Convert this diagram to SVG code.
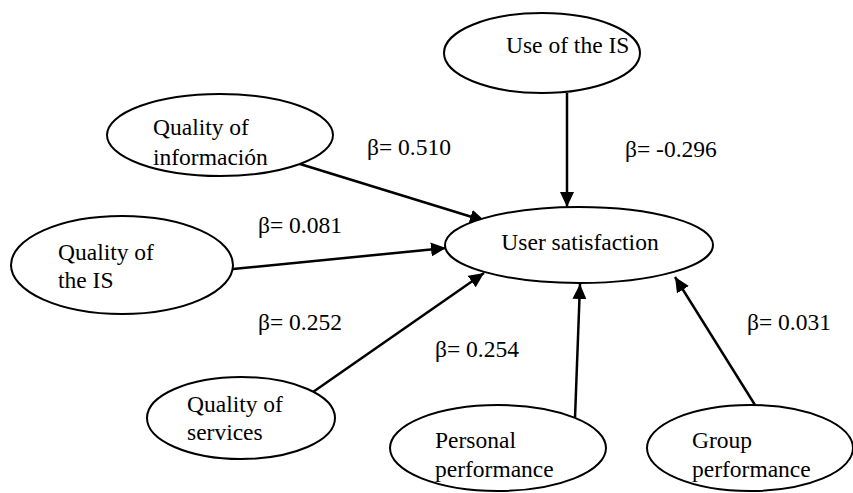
<svg xmlns="http://www.w3.org/2000/svg" width="853" height="493" viewBox="0 0 853 493">
<style>
.n{fill:#fff;stroke:#000;stroke-width:2}
text{font-family:"Liberation Serif","Times New Roman",serif;font-size:23.5px;fill:#000}
.e{stroke:#000;stroke-width:2.5;fill:none}
</style>
<defs>
<marker id="ah" markerUnits="userSpaceOnUse" markerWidth="16" markerHeight="14" refX="15" refY="7" orient="auto">
<path d="M0,0 L15,7 L0,14 Z" fill="#000"/>
</marker>
</defs>
<rect width="853" height="493" fill="#fff"/>
<g id="connectors">
<line class="e" x1="567" y1="93" x2="567" y2="207" marker-end="url(#ah)"/>
<line class="e" x1="300" y1="164" x2="485" y2="221" marker-end="url(#ah)"/>
<line class="e" x1="233" y1="269" x2="446" y2="248" marker-end="url(#ah)"/>
<line class="e" x1="313" y1="392" x2="484" y2="273" marker-end="url(#ah)"/>
<line class="e" x1="575" y1="418" x2="580" y2="284" marker-end="url(#ah)"/>
<line class="e" x1="755" y1="405" x2="675" y2="277" marker-end="url(#ah)"/>
</g>
<g id="labels">
<text x="367" y="155">β= 0.510</text>
<text x="258" y="233">β= 0.081</text>
<text x="625" y="157">β= -0.296</text>
<text x="258" y="330">β= 0.252</text>
<text x="435" y="357">β= 0.254</text>
<text x="747" y="330">β= 0.031</text>
</g>
<g id="use-is">
<ellipse class="n" cx="542" cy="53" rx="98" ry="40"/>
<text x="506" y="53">Use of the IS</text>
</g>
<g id="quality-info">
<ellipse class="n" cx="220" cy="135" rx="113" ry="41"/>
<text x="153" y="135">Quality of</text>
<text x="153" y="165">información</text>
</g>
<g id="user-satisfaction">
<ellipse class="n" cx="579" cy="245" rx="134" ry="38"/>
<text x="580" y="250" text-anchor="middle">User satisfaction</text>
</g>
<g id="quality-is">
<ellipse class="n" cx="122" cy="265" rx="111" ry="49"/>
<text x="58" y="260">Quality of</text>
<text x="58" y="288">the IS</text>
</g>
<g id="quality-services">
<ellipse class="n" cx="241" cy="418" rx="94" ry="41"/>
<text x="187" y="412">Quality of</text>
<text x="187" y="440">services</text>
</g>
<g id="personal-performance">
<ellipse class="n" cx="498" cy="448" rx="108" ry="43"/>
<text x="435" y="448">Personal</text>
<text x="435" y="477">performance</text>
</g>
<g id="group-performance">
<ellipse class="n" cx="750" cy="448" rx="103" ry="43"/>
<text x="692" y="448">Group</text>
<text x="692" y="477">performance</text>
</g>
</svg>
